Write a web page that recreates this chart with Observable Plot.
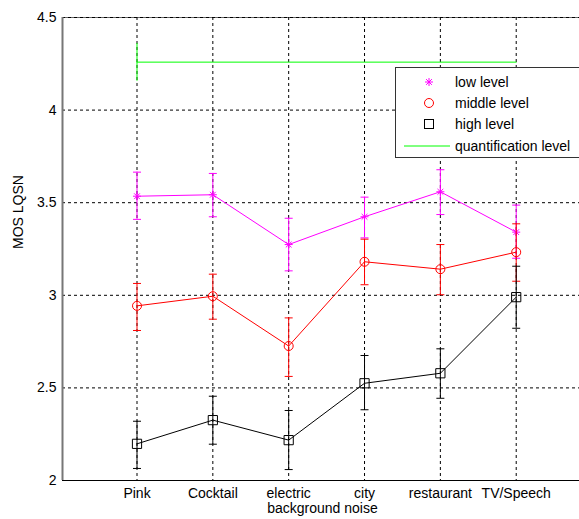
<!DOCTYPE html>
<html>
<head>
<meta charset="utf-8">
<script src="https://cdn.jsdelivr.net/npm/d3@7"></script>
<script src="https://cdn.jsdelivr.net/npm/@observablehq/plot@0.6"></script>
<style>
  html, body { margin: 0; padding: 0; background: white; overflow: hidden; }
  #wrap { position: relative; width: 579px; height: 519px; overflow: hidden; }
  #legend { position: absolute; left: 395px; top: 67px; width: 200px; height: 89px;
    border: 1px solid #333; background: white; font-family: 'Liberation Sans', Arial, sans-serif; font-size: 14px; }
  #legend .row { position: absolute; left: 0; height: 20px; width: 200px; }
  #legend .row svg { position: absolute; left: 0; top: 0; }
  #legend .row span { position: absolute; left: 59px; top: 2px; line-height: 16px; color: #000; }
</style>
</head>
<body>
<div id="wrap"><div id="chart"></div><div id="legend"></div></div>
<script>
const categories = ["Pink", "Cocktail", "electric", "city", "restaurant", "TV/Speech"];
const lowMean   = [3.535, 3.543, 3.274, 3.424, 3.559, 3.341];
const lowUpper  = [3.665, 3.658, 3.416, 3.530, 3.678, 3.487];
const lowLower  = [3.410, 3.424, 3.132, 3.310, 3.436, 3.200];
const midMean   = [2.943, 2.995, 2.726, 3.181, 3.141, 3.233];
const midUpper  = [3.064, 3.114, 2.878, 3.303, 3.274, 3.386];
const midLower  = [2.810, 2.871, 2.562, 3.057, 3.003, 3.076];
const highMean  = [2.198, 2.326, 2.218, 2.525, 2.579, 2.990];
const highUpper = [2.320, 2.455, 2.378, 2.675, 2.711, 3.157];
const highLower = [2.065, 2.196, 2.059, 2.382, 2.444, 2.822];
const quantLevel = 4.259;
const quantUpper = 4.360;
const quantLower = 4.156;
const yTicks = [2, 2.5, 3, 3.5, 4, 4.5];
const seriesNames = ["low level", "middle level", "high level", "quantification level"];

const idx = categories.map((c, i) => i + 1);
function table(mean, lo, hi) {
  return categories.map((c, i) => ({i: i + 1, cat: c, mean: mean[i], lo: lo[i], hi: hi[i]}));
}
const low = table(lowMean, lowLower, lowUpper);
const mid = table(midMean, midLower, midUpper);
const high = table(highMean, highLower, highUpper);
const quant = [
  {i: 1, mean: quantLevel, lo: quantLower, hi: quantUpper},
  {i: categories.length, mean: quantLevel, lo: null, hi: null}
];

const hline = {draw(ctx, size) { const r = Math.sqrt(size / Math.PI); ctx.moveTo(-r, 0); ctx.lineTo(r, 0); }};
const asterisk = {draw(ctx, size) {
  const r = Math.sqrt(size / Math.PI), d = r * 0.72;
  ctx.moveTo(-r, 0); ctx.lineTo(r, 0);
  ctx.moveTo(0, -r); ctx.lineTo(0, r);
  ctx.moveTo(-d, -d); ctx.lineTo(d, d);
  ctx.moveTo(-d, d); ctx.lineTo(d, -d);
}};

function series(data, color, symbol, r) {
  return [
    Plot.line(data, {x: "i", y: "mean", stroke: color, strokeWidth: 1}),
    Plot.ruleX(data, {x: "i", y1: "lo", y2: "hi", stroke: color, strokeWidth: 1}),
    Plot.dot(data, {x: "i", y: "lo", symbol: hline, r: 4, stroke: color, strokeWidth: 1}),
    Plot.dot(data, {x: "i", y: "hi", symbol: hline, r: 4, stroke: color, strokeWidth: 1}),
    Plot.dot(data, {x: "i", y: "mean", symbol, r, stroke: color, fill: "none", strokeWidth: 1})
  ];
}

const xDomain = [0.0177, 6.874];
const chart = Plot.plot({
  width: 582, height: 519,
  marginLeft: 62, marginRight: 0, marginTop: 17, marginBottom: 39,
  x: {domain: xDomain, range: [62, 582]},
  y: {domain: [2, 4.5], range: [480, 17]},
  style: {fontFamily: "'Liberation Sans', Arial, sans-serif", fontSize: "14px", background: "white", color: "black", maxWidth: "none", overflow: "visible"},
  marks: [
    Plot.ruleY([4.5], {stroke: "#666", strokeWidth: 1}),
    Plot.gridX(idx, {stroke: "black", strokeOpacity: 1, strokeDasharray: "3,3"}),
    Plot.gridY(yTicks.filter(d => d > 2), {stroke: "black", strokeOpacity: 1, strokeDasharray: "3,3"}),
    Plot.line(quant, {x: "i", y: "mean", stroke: "#00ff00", strokeWidth: 1}),
    Plot.ruleX(quant.filter(d => d.lo != null), {x: "i", y1: "lo", y2: "hi", stroke: "#00ff00", strokeWidth: 1}),
    ...series(low, "#ff00ff", asterisk, 4),
    ...series(mid, "#ff0000", "circle", 4.5),
    ...series(high, "#000000", "square", 5.2),
    Plot.ruleX([xDomain[0]], {stroke: "#777", strokeWidth: 2}),
    Plot.ruleY([2], {stroke: "black", strokeWidth: 1}),
    Plot.axisY(yTicks, {anchor: "left", tickSize: 0, tickPadding: 6, tickFormat: d => String(d), label: null}),
    Plot.axisX(idx, {anchor: "bottom", tickSize: 0, tickPadding: 8, tickFormat: i => categories[i - 1], label: null}),
    Plot.text(["background noise"], {frameAnchor: "bottom", lineAnchor: "top", dy: 23, text: d => d, fill: "black"}),
    Plot.text(["MOS LQSN"], {frameAnchor: "left", rotate: -90, dx: -44, text: d => d, fill: "black"})
  ]
});
document.getElementById("chart").appendChild(chart);

// Legend
const colors = ["#ff00ff", "#ff0000", "#000000", "#00ff00"];
const rowTops = [4, 25, 46, 68];
const legend = d3.select("#legend");
seriesNames.forEach((name, k) => {
  const row = legend.append("div").attr("class", "row").style("top", rowTops[k] + "px");
  const svg = row.append("svg").attr("width", 60).attr("height", 20);
  const cx = 33, cy = 10;
  if (k === 0) {
    svg.append("path").attr("transform", `translate(${cx},${cy})`)
      .attr("d", d3.symbol().type(asterisk).size(Math.PI * 16)()).attr("stroke", colors[k]).attr("fill", "none");
  } else if (k === 1) {
    svg.append("circle").attr("cx", cx).attr("cy", cy).attr("r", 4.5).attr("stroke", colors[k]).attr("fill", "none");
  } else if (k === 2) {
    svg.append("rect").attr("x", cx - 4.5).attr("y", cy - 4.5).attr("width", 9).attr("height", 9).attr("stroke", colors[k]).attr("fill", "none");
  } else {
    svg.append("line").attr("x1", 8).attr("x2", 54).attr("y1", cy).attr("y2", cy).attr("stroke", colors[k]);
  }
  row.append("span").text(name);
});
</script>
</body>
</html>
